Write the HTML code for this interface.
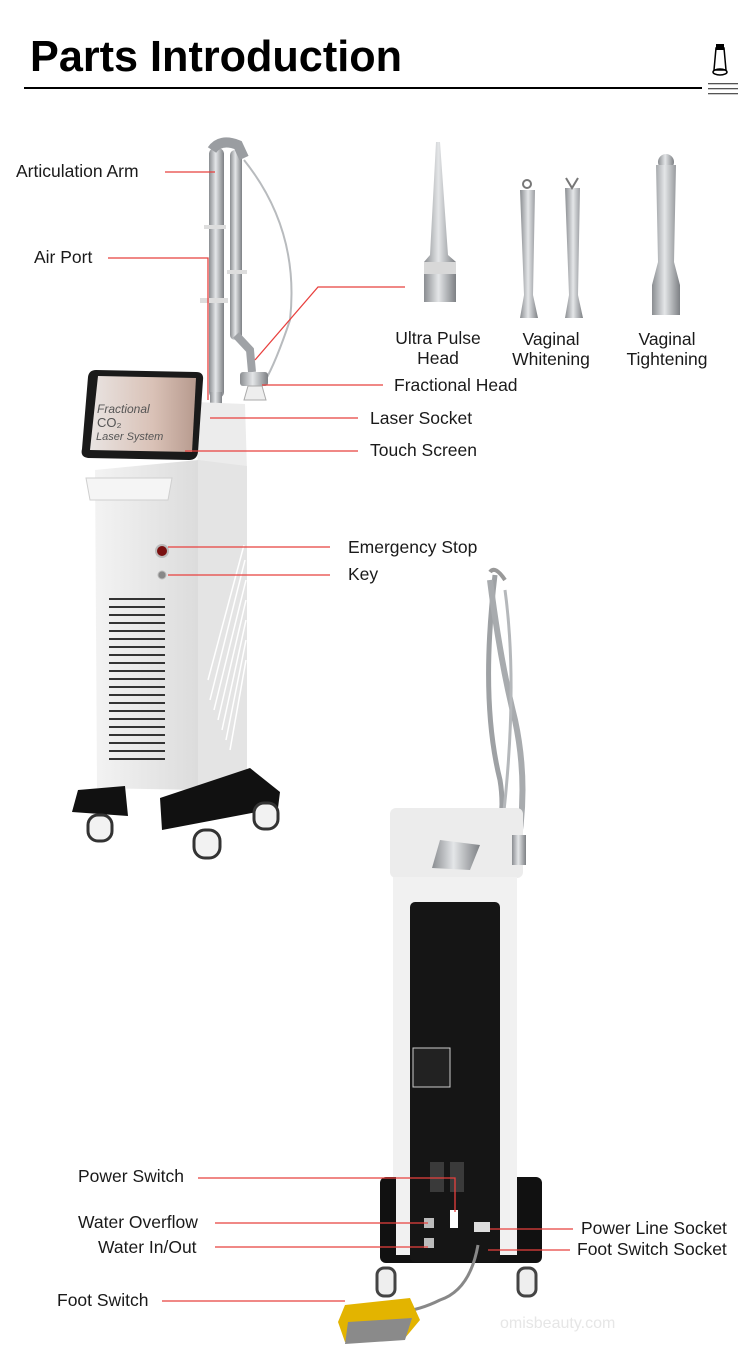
<!DOCTYPE html>
<html><head><meta charset="utf-8"><style>
html,body{margin:0;padding:0;background:#fff;}
svg{display:block;}
text{font-family:"Liberation Sans",sans-serif;fill:#1a1a1a;}
.l{font-size:17.5px;}
.r{stroke:#e8403e;stroke-width:1.3;fill:none;}
</style></head><body>
<svg width="750" height="1362" viewBox="0 0 750 1362" xmlns="http://www.w3.org/2000/svg">
<defs>
<linearGradient id="met" x1="0" x2="1"><stop offset="0" stop-color="#8a8d91"/><stop offset=".45" stop-color="#e4e6e8"/><stop offset="1" stop-color="#7d8084"/></linearGradient>
<linearGradient id="wht" x1="0" x2="1"><stop offset="0" stop-color="#f3f3f3"/><stop offset="1" stop-color="#dcdcdc"/></linearGradient>
<linearGradient id="scr" x1="0" x2="1"><stop offset="0" stop-color="#e9e4e2"/><stop offset=".6" stop-color="#d9c1b6"/><stop offset="1" stop-color="#b79a8e"/></linearGradient>
</defs>
<!-- title -->
<text x="30" y="71" font-size="44" font-weight="bold" textLength="372" lengthAdjust="spacingAndGlyphs" style="fill:#000">Parts Introduction</text>
<rect x="24" y="87" width="678" height="2" fill="#000"/>
<path d="M716 48h8l2 22h-12z" fill="none" stroke="#000" stroke-width="1.5"/>
<ellipse cx="720" cy="72" rx="7" ry="3" fill="none" stroke="#000" stroke-width="1.5"/>
<rect x="716" y="44" width="8" height="6" fill="#000"/>
<g fill="#555"><rect x="708" y="83" width="30" height="1.3"/><rect x="708" y="88" width="30" height="1.3"/><rect x="708" y="93" width="30" height="1.3"/></g>

<!-- front machine -->
<g>
<rect x="209" y="148" width="15" height="250" rx="6" fill="url(#met)"/>
<rect x="230" y="150" width="12" height="190" rx="5" fill="url(#met)"/>
<path d="M212 150 Q220 138 238 145 L244 158" fill="none" stroke="#9a9da1" stroke-width="10"/>
<path d="M236 335 L250 350 L252 372" fill="none" stroke="#9fa2a6" stroke-width="8"/>
<path d="M244 160 Q300 230 290 320 Q270 380 255 395" fill="none" stroke="#b8bbbe" stroke-width="2"/>
<rect x="240" y="372" width="28" height="14" rx="3" fill="url(#met)"/>
<path d="M248 386h14l4 14h-22z" fill="#eee" stroke="#aaa"/>
<rect x="210" y="392" width="12" height="14" fill="url(#met)"/>
<g fill="#ddd"><rect x="200" y="298" width="28" height="5"/><rect x="204" y="225" width="22" height="4"/><rect x="227" y="270" width="20" height="4"/></g>
<path d="M195 402 L245 404 L247 470 L198 470 Z" fill="#ececec"/>
<path d="M198 460 L247 466 L247 795 L198 790 Z" fill="#e4e4e4"/>
<g stroke="#fff" stroke-width="1.5"><path d="M210 700 L245 560 M214 710 L246 580 M218 720 L246 600 M222 730 L246 620 M226 740 L246 640 M230 750 L246 660 M208 680 L244 545"/></g>
<path d="M95 470 L198 460 L198 790 L97 788 Z" fill="url(#wht)"/>
<path d="M86 478 L172 478 L168 500 L90 500 Z" fill="#f5f5f5" stroke="#cfcfcf"/>
<g fill="#333"><rect x="109" y="598" width="56" height="2"/><rect x="109" y="606" width="56" height="2"/><rect x="109" y="614" width="56" height="2"/><rect x="109" y="622" width="56" height="2"/><rect x="109" y="630" width="56" height="2"/><rect x="109" y="638" width="56" height="2"/><rect x="109" y="646" width="56" height="2"/><rect x="109" y="654" width="56" height="2"/><rect x="109" y="662" width="56" height="2"/><rect x="109" y="670" width="56" height="2"/><rect x="109" y="678" width="56" height="2"/><rect x="109" y="686" width="56" height="2"/><rect x="109" y="694" width="56" height="2"/><rect x="109" y="702" width="56" height="2"/><rect x="109" y="710" width="56" height="2"/><rect x="109" y="718" width="56" height="2"/><rect x="109" y="726" width="56" height="2"/><rect x="109" y="734" width="56" height="2"/><rect x="109" y="742" width="56" height="2"/><rect x="109" y="750" width="56" height="2"/><rect x="109" y="758" width="56" height="2"/></g>
<circle cx="162" cy="551" r="6" fill="#7a1010" stroke="#bbb" stroke-width="2"/>
<circle cx="162" cy="575" r="4" fill="#888" stroke="#bbb"/>
<path d="M96 370 L196 372 Q204 372 203 380 L198 452 Q197 460 189 460 L88 458 Q80 457 82 449 L88 377 Q89 370 96 370Z" fill="#1a1a1a"/>
<path d="M98 376 L196 378 L192 452 L90 450 Z" fill="url(#scr)"/>
<text x="97" y="413" font-size="12" font-family="Liberation Serif" style="fill:#555;font-style:italic">Fractional</text>
<text x="97" y="427" font-size="13" font-family="Liberation Serif" style="fill:#555">CO₂</text>
<text x="96" y="440" font-size="11" font-family="Liberation Serif" style="fill:#555;font-style:italic">Laser System</text>
<path d="M78 790 L125 786 L128 816 L72 812 Z" fill="#111"/>
<path d="M160 798 L250 768 L280 792 L278 808 L162 830 Z" fill="#111"/>
<g fill="#f2f2f2" stroke="#333" stroke-width="3"><rect x="88" y="815" width="24" height="26" rx="10"/><rect x="194" y="830" width="26" height="28" rx="11"/><rect x="254" y="803" width="24" height="26" rx="10"/></g>
</g>

<!-- accessories -->
<path d="M436 142 L440 142 L448 255 L456 262 L456 302 L424 302 L424 262 L430 255 Z" fill="url(#met)"/>
<rect x="424" y="262" width="32" height="12" fill="#d8d8d8"/>
<path d="M520 190 L535 190 L533 295 L538 318 L520 318 L524 295 Z" fill="url(#met)"/>
<path d="M565 188 L580 188 L578 295 L583 318 L565 318 L569 295 Z" fill="url(#met)"/>
<circle cx="527" cy="184" r="4" fill="none" stroke="#777" stroke-width="2"/>
<path d="M566 178 L572 188 L578 178" fill="none" stroke="#777" stroke-width="2"/>
<circle cx="666" cy="162" r="8" fill="url(#met)"/>
<path d="M656 165 L676 165 L674 262 L680 285 L680 315 L652 315 L652 285 L658 262 Z" fill="url(#met)"/>
<text x="438" y="344" class="l" text-anchor="middle">Ultra Pulse</text>
<text x="438" y="364" class="l" text-anchor="middle">Head</text>
<text x="551" y="345" class="l" text-anchor="middle">Vaginal</text>
<text x="551" y="365" class="l" text-anchor="middle">Whitening</text>
<text x="667" y="345" class="l" text-anchor="middle">Vaginal</text>
<text x="667" y="365" class="l" text-anchor="middle">Tightening</text>

<!-- back machine -->
<g>
<path d="M495 575 Q480 700 500 780 Q510 840 470 900 Q455 930 490 920" fill="none" stroke="#9ea1a4" stroke-width="5"/>
<path d="M490 580 Q500 660 515 720 Q530 790 515 860" fill="none" stroke="#a8abae" stroke-width="6"/>
<path d="M505 590 Q520 700 498 860" fill="none" stroke="#b5b8bb" stroke-width="3"/>
<path d="M490 572 Q495 565 505 580" fill="none" stroke="#999" stroke-width="4"/>
<rect x="390" y="808" width="133" height="70" rx="6" fill="#ececec"/>
<path d="M440 840 L480 845 L470 870 L432 868Z" fill="url(#met)"/>
<rect x="512" y="835" width="14" height="30" fill="url(#met)"/>
<rect x="393" y="877" width="124" height="378" fill="#f1f1f1"/>
<rect x="380" y="1177" width="162" height="86" rx="6" fill="#111"/>
<rect x="396" y="1177" width="20" height="78" fill="#f1f1f1"/>
<rect x="499" y="1177" width="18" height="78" fill="#f1f1f1"/>
<rect x="410" y="902" width="90" height="360" rx="5" fill="#151515"/>
<rect x="413" y="1048" width="37" height="39" fill="#222" stroke="#ccc"/>
<g fill="#3a3a3a"><rect x="430" y="1162" width="14" height="30"/><rect x="450" y="1162" width="14" height="30"/></g>
<rect x="450" y="1210" width="8" height="18" fill="#fff"/>
<rect x="424" y="1218" width="10" height="10" fill="#bbb"/>
<rect x="424" y="1238" width="10" height="10" fill="#bbb"/>
<rect x="474" y="1222" width="16" height="10" fill="#ddd"/>
<path d="M478 1245 Q470 1290 440 1300 Q420 1310 400 1312" fill="none" stroke="#888" stroke-width="3"/>
<g fill="#eee" stroke="#444" stroke-width="3"><rect x="377" y="1268" width="18" height="28" rx="7"/><rect x="518" y="1268" width="18" height="28" rx="7"/></g>
<path d="M345 1305 L410 1298 L420 1320 L405 1338 L345 1342 L338 1322 Z" fill="#e3b400"/>
<path d="M348 1322 L412 1318 L405 1340 L345 1344 Z" fill="#8a8a8a"/>
</g>

<!-- red lines -->
<path class="r" d="M165 172 H215"/>
<path class="r" d="M108 258 H208 V400"/>
<path class="r" d="M405 287 H318 L255 360"/>
<path class="r" d="M262 385 H383"/>
<path class="r" d="M210 418 H358"/>
<path class="r" d="M185 451 H358"/>
<path class="r" d="M168 547 H330"/>
<path class="r" d="M168 575 H330"/>
<path class="r" d="M198 1178 H455 V1212"/>
<path class="r" d="M215 1223 H428"/>
<path class="r" d="M215 1247 H428"/>
<path class="r" d="M490 1229 H573"/>
<path class="r" d="M488 1250 H570"/>
<path class="r" d="M162 1301 H345"/>

<!-- labels -->
<text x="16" y="177" class="l">Articulation Arm</text>
<text x="34" y="263" class="l">Air Port</text>
<text x="394" y="391" class="l">Fractional Head</text>
<text x="370" y="424" class="l">Laser Socket</text>
<text x="370" y="456" class="l">Touch Screen</text>
<text x="348" y="553" class="l">Emergency Stop</text>
<text x="348" y="580" class="l">Key</text>
<text x="78" y="1182" class="l">Power Switch</text>
<text x="78" y="1228" class="l">Water Overflow</text>
<text x="98" y="1253" class="l">Water In/Out</text>
<text x="581" y="1234" class="l">Power Line Socket</text>
<text x="577" y="1255" class="l">Foot Switch Socket</text>
<text x="57" y="1306" class="l">Foot Switch</text>
<text x="500" y="1328" font-size="16" style="fill:#e6e6e6">omisbeauty.com</text>
</svg>
</body></html>
